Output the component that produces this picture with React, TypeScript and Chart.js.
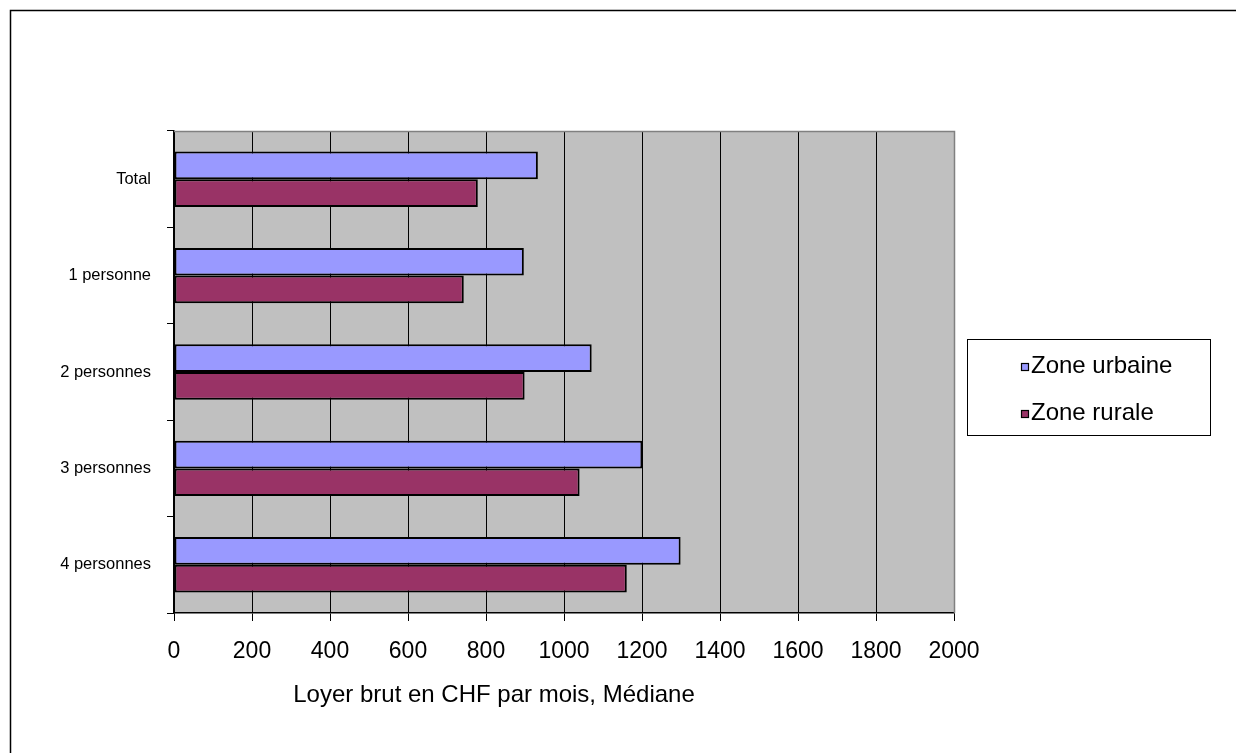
import React, { useEffect, useRef } from 'react';
import { Chart, registerables } from 'chart.js';

Chart.register(...registerables);

const categories = ['Total', '1 personne', '2 personnes', '3 personnes', '4 personnes'];
const urbanValues = [933, 897, 1071, 1201, 1299];
const ruralValues = [779, 743, 899, 1040, 1161];
const seriesLabels = ['Zone urbaine', 'Zone rurale'];
const seriesColors = ['#9999FF', '#993366'];
const xMin = 0;
const xMax = 2000;
const xStep = 200;
const axisTitle = 'Loyer brut en CHF par mois, Médiane';

const FONT = '"Liberation Sans", Arial, sans-serif';

const framePlugin = {
  id: 'framePlugin',
  beforeDraw(chart: any) {
    const { ctx, chartArea } = chart;
    ctx.save();
    ctx.fillStyle = '#FFFFFF';
    ctx.fillRect(0, 0, chart.width, chart.height);
    ctx.strokeStyle = '#000000';
    ctx.lineWidth = 1.5;
    ctx.strokeRect(10.5, 10.5, chart.width + 50, chart.height + 50);
    ctx.fillStyle = '#C0C0C0';
    ctx.fillRect(chartArea.left, chartArea.top, chartArea.right - chartArea.left, chartArea.bottom - chartArea.top);
    ctx.restore();
  },
  afterDraw(chart: any) {
    const { ctx, chartArea } = chart;
    ctx.save();
    // plot border top/right
    ctx.strokeStyle = '#808080';
    ctx.lineWidth = 1.5;
    ctx.beginPath();
    ctx.moveTo(chartArea.left, chartArea.top + 0.5);
    ctx.lineTo(chartArea.right + 0.5, chartArea.top + 0.5);
    ctx.lineTo(chartArea.right + 0.5, chartArea.bottom);
    ctx.stroke();

    // axis title
    ctx.fillStyle = '#000000';
    ctx.font = `24px ${FONT}`;
    ctx.textAlign = 'center';
    ctx.textBaseline = 'middle';
    ctx.fillText(axisTitle, 494, 695);

    // legend
    const bx = 967.5, by = 339.5, bw = 243, bh = 96;
    ctx.strokeStyle = '#000000';
    ctx.lineWidth = 1;
    ctx.strokeRect(bx, by, bw, bh);
    const ys = [365, 412];
    chart.data.datasets.forEach((ds: any, i: number) => {
      const y = ys[i];
      ctx.fillStyle = ds.backgroundColor;
      ctx.fillRect(1021, y - 2, 8, 8);
      ctx.strokeStyle = '#000000';
      ctx.lineWidth = 1.2;
      ctx.strokeRect(1021.5, y - 1.5, 7, 7);
      ctx.fillStyle = '#000000';
      ctx.font = `24px ${FONT}`;
      ctx.textAlign = 'left';
      ctx.textBaseline = 'middle';
      ctx.fillText(ds.label, 1031, y + 1);
    });
    ctx.restore();
  },
};

export default function App() {
  const canvasRef = useRef<HTMLCanvasElement | null>(null);

  useEffect(() => {
    document.body.style.margin = '0';
    const canvas = canvasRef.current;
    if (!canvas) return;
    const chart = new Chart(canvas, {
      type: 'bar',
      data: {
        labels: categories,
        datasets: [
          {
            label: seriesLabels[0],
            data: urbanValues,
            backgroundColor: seriesColors[0],
            borderColor: '#000000',
            borderWidth: 2,
            borderSkipped: false,
            categoryPercentage: 0.575,
            barPercentage: 1.0,
          },
          {
            label: seriesLabels[1],
            data: ruralValues,
            backgroundColor: seriesColors[1],
            borderColor: '#000000',
            borderWidth: 2,
            borderSkipped: false,
            categoryPercentage: 0.575,
            barPercentage: 1.0,
          },
        ],
      },
      options: {
        indexAxis: 'y',
        animation: false,
        responsive: false,
        maintainAspectRatio: false,
        devicePixelRatio: 1,
        layout: { padding: { left: 0, top: 131, right: 282, bottom: 0 } },
        plugins: {
          legend: { display: false },
          tooltip: { enabled: false },
          title: { display: false },
        },
        scales: {
          x: {
            type: 'linear',
            min: xMin,
            max: xMax,
            ticks: {
              stepSize: xStep,
              color: '#000000',
              font: { family: FONT, size: 23 },
              padding: 17,
              maxRotation: 0,
              callback: (v: any) => String(v),
            },
            grid: {
              color: (c: any) => (c.tick && c.tick.value === xMax ? '#808080' : '#000000'),
              lineWidth: 1,
              drawOnChartArea: true,
              drawTicks: true,
              tickLength: 8,
              tickColor: '#000000',
            },
            border: { display: true, color: '#000000', width: 1.5 },
            afterFit: (scale: any) => {
              scale.height = 140;
            },
          },
          y: {
            type: 'category',
            ticks: {
              color: '#000000',
              font: { family: FONT, size: 16.5 },
              padding: 16,
            },
            grid: {
              offset: true,
              drawOnChartArea: false,
              drawTicks: true,
              tickLength: 7,
              color: '#000000',
              tickColor: '#000000',
            },
            border: { display: true, color: '#000000', width: 1.5 },
            afterFit: (scale: any) => {
              scale.width = 174;
            },
          },
        },
      },
      plugins: [framePlugin],
    });
    return () => chart.destroy();
  }, []);

  return (
    <div style={{ position: 'fixed', left: 0, top: 0, width: 1236, height: 753 }}>
      <canvas ref={canvasRef} width={1236} height={753} style={{ display: 'block', width: 1236, height: 753 }} />
    </div>
  );
}
